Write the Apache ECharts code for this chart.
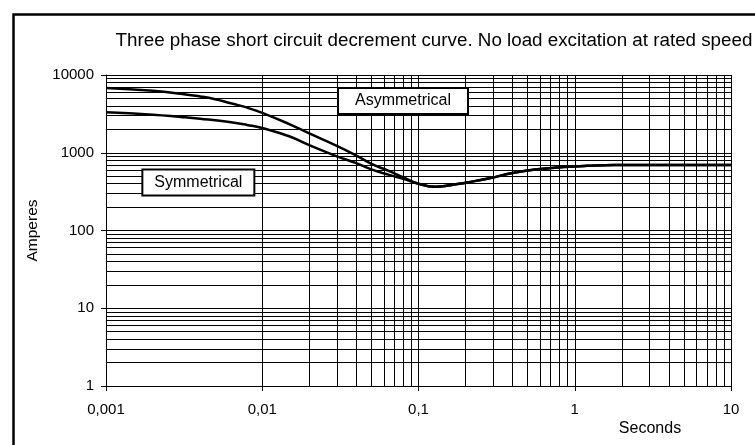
<!DOCTYPE html>
<html>
<head>
<meta charset="utf-8">
<script src="https://cdn.jsdelivr.net/npm/echarts@6/dist/echarts.min.js"></script>
<style>
html,body{margin:0;padding:0;background:#fff;}
#chart{width:755px;height:445px;}
</style>
</head>
<body>
<div id="chart"></div>
<script>
// Time axis (seconds) and current (amperes)
const asymSeconds = [0.001, 0.002, 0.003, 0.004, 0.005, 0.006, 0.007, 0.008, 0.01, 0.015, 0.02, 0.03, 0.04, 0.05, 0.065, 0.08];
const asymmetrical = [6800, 6250, 5750, 5300, 4880, 4440, 4100, 3800, 3260, 2320, 1770, 1230, 920, 720, 580, 482];
const symSeconds = [0.001, 0.002, 0.003, 0.004, 0.006, 0.008, 0.01, 0.015, 0.02, 0.03, 0.04, 0.05, 0.065, 0.08];
const symmetrical = [3310, 3085, 2890, 2740, 2500, 2280, 2080, 1620, 1250, 900, 735, 610, 520, 462];
// common tail after the curves merge
const tailSeconds = [0.1, 0.128, 0.16, 0.2, 0.28, 0.4, 0.6, 0.85, 1.2, 1.8, 4, 10];
const tailAmperes = [400, 365, 383, 412, 466, 549, 618, 656, 680, 695, 695, 695];

const xTickValues = [0.001, 0.01, 0.1, 1, 10];
const xTickLabels = ['0,001', '0,01', '0,1', '1', '10'];
const yTickValues = [1, 10, 100, 1000, 10000];
const yTickLabels = ['1', '10', '100', '1000', '10000'];
const gridMultipliers = [1, 2, 3, 4, 5, 6, 7, 8, 9];

const labelTexts = ['Asymmetrical', 'Symmetrical'];
const labelAnchors = [[0.0796, 4630], [0.0039, 414]];

function pairs(xs, ys) { return xs.map((x, i) => [x, ys[i]]); }
const asymData = pairs(asymSeconds, asymmetrical).concat(pairs(tailSeconds, tailAmperes));
const symData = pairs(symSeconds, symmetrical).concat(pairs(tailSeconds, tailAmperes));

const vLines = [];
xTickValues.slice(0, -1).forEach(d => gridMultipliers.forEach(m => vLines.push({ xAxis: +(d * m).toPrecision(6) })));
vLines.push({ xAxis: 10 });
const hLines = [];
yTickValues.slice(0, -1).forEach(d => gridMultipliers.forEach(m => hLines.push({ yAxis: d * m })));
hLines.push({ yAxis: 10000 });

const FONT = 'Liberation Sans, Arial, sans-serif';
const chart = echarts.init(document.getElementById('chart'));

function lbl(list, vals) {
  return v => {
    let best = 0, bd = Infinity;
    vals.forEach((t, i) => { const d = Math.abs(Math.log10(v) - Math.log10(t)); if (d < bd) { bd = d; best = i; } });
    return list[best];
  };
}

const boxLabel = (pad) => ({
  show: true, position: 'inside', color: '#000', fontFamily: FONT, fontSize: 16,
  backgroundColor: '#fff', borderColor: '#000', borderWidth: 2, padding: pad, lineHeight: 18
});

chart.setOption({
  animation: false,
  backgroundColor: '#fff',
  title: [
    { text: 'Three phase short circuit decrement curve. No load excitation at rated speed',
      left: 429, top: 26, textAlign: 'center',
      textStyle: { fontFamily: FONT, fontSize: 18.8, fontWeight: 'normal', color: '#000' } },
    { text: 'Seconds', left: 645, top: 416, textAlign: 'center',
      textStyle: { fontFamily: FONT, fontSize: 16, fontWeight: 'normal', color: '#000' } }
  ],
  graphic: [{
    type: 'rect', left: 11, top: 12, silent: true,
    shape: { width: 800, height: 500 },
    style: { fill: 'none', stroke: '#000', lineWidth: 2.5 }
  }],
  grid: { left: 106, right: 24, top: 75, bottom: 59 },
  xAxis: {
    type: 'log', logBase: 10, min: 0.001, max: 10,
    axisLine: { show: true, lineStyle: { color: '#000', width: 1 } },
    axisTick: { show: true, length: 5, lineStyle: { color: '#000' } },
    splitLine: { show: false },
    axisLabel: { color: '#000', fontFamily: FONT, fontSize: 15, margin: 16, formatter: lbl(xTickLabels, xTickValues) }
  },
  yAxis: {
    type: 'log', logBase: 10, min: 1, max: 10000,
    name: 'Amperes', nameLocation: 'middle', nameGap: 65, nameRotate: 90,
    nameTextStyle: { color: '#000', fontFamily: FONT, fontSize: 15.5 },
    axisLine: { show: true, lineStyle: { color: '#000', width: 1 } },
    axisTick: { show: true, length: 5, lineStyle: { color: '#000' } },
    splitLine: { show: false },
    axisLabel: { color: '#000', fontFamily: FONT, fontSize: 15, margin: 12, formatter: lbl(yTickLabels, yTickValues) }
  },
  series: [
    {
      type: 'line', z: 1, data: [[1, 100]], symbol: 'none', lineStyle: { opacity: 0 }, silent: true,
      markLine: {
        silent: true, symbol: ['none', 'none'], label: { show: false },
        lineStyle: { color: '#000', width: 1, type: 'solid' },
        data: vLines.concat(hLines)
      }
    },
    {
      name: 'Symmetrical', type: 'line', z: 3, data: symData, smooth: 0.5, symbol: 'none',
      lineStyle: { color: '#000', width: 2.5 }
    },
    {
      name: 'Asymmetrical', type: 'line', z: 4, data: asymData, smooth: 0.5, symbol: 'none',
      lineStyle: { color: '#000', width: 2.5 },
      markPoint: {
        symbol: 'rect', symbolSize: 1, itemStyle: { color: 'rgba(0,0,0,0)' }, z: 10,
        data: [
          { coord: labelAnchors[0], value: labelTexts[0], label: Object.assign(boxLabel([3, 16]), { formatter: labelTexts[0] }) },
          { coord: labelAnchors[1], value: labelTexts[1], label: Object.assign(boxLabel([3, 11]), { formatter: labelTexts[1] }) }
        ]
      }
    }
  ]
});
</script>
</body>
</html>
